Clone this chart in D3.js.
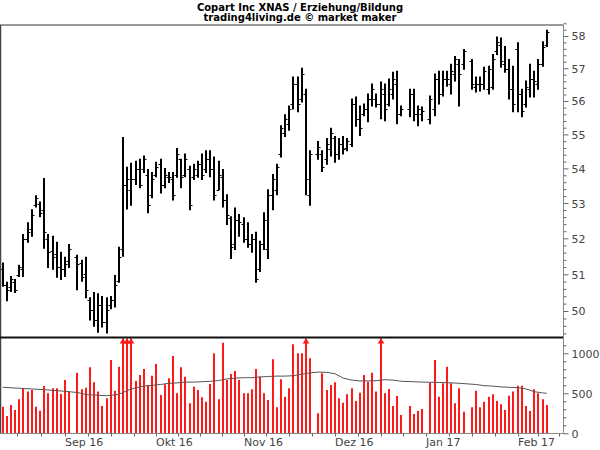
<!DOCTYPE html>
<html><head><meta charset="utf-8">
<script src="https://cdn.jsdelivr.net/npm/d3@7/dist/d3.min.js"></script>
<style>body{margin:0;background:#fff}svg{display:block}</style>
</head><body>
<svg id="c" width="600" height="450"></svg>
<script>
const title1 = "Copart Inc XNAS / Erziehung/Bildung";
const title2 = "trading4living.de © market maker";
const firstDay = "2016-08-11", lastDay = "2017-02-10";
const holidays = ["2016-09-05","2016-11-24","2016-12-26","2017-01-02","2017-01-16"];
const tickMonths = ["2016-08-01","2016-09-01","2016-10-03","2016-11-01","2016-12-01","2017-01-02","2017-02-01","2017-03-01"];
const monthLabels = ["","Sep 16","Okt 16","Nov 16","Dez 16","Jan 17","Feb 17",""];
const priceTicks = [50,51,52,53,54,55,56,57,58];
const volTicks = [0,500,1000];

const open = [51.14,50.72,50.64,50.78,50.97,51.14,51.97,52.25,52.94,52.97,52.81,51.97,51.64,51.56,51.19,51.14,51.36,
51.47,51.31,51.00,50.31,50.03,49.76,50.17,49.70,50.17,50.31,50.81,51.69,53.53,53.38,
53.68,53.97,53.97,53.82,53.24,53.82,54.12,53.53,53.74,53.68,53.82,54.27,53.82,53.97,53.74,53.82,
54.12,53.97,54.27,53.97,53.38,53.74,53.09,52.58,51.83,52.53,52.39,51.97,51.83,51.97,51.14,51.83,51.69,
53.24,53.38,54.42,55.03,55.32,55.91,56.52,56.06,56.21,53.24,
54.42,54.42,54.27,54.58,54.88,54.42,54.73,54.61,54.73,55.91,55.47,55.62,55.76,56.06,56.06,55.91,56.21,55.91,56.21,56.52,55.62,
55.76,56.21,55.62,55.62,
55.47,55.76,56.67,56.21,56.67,56.52,56.82,57.12,57.12,
57.21,56.42,56.52,56.52,56.36,56.42,57.52,57.73,57.12,56.97,56.36,57.58,56.21,55.91,56.36,56.67,56.52,57.12,57.73];
const high = [51.31,50.78,50.94,50.86,51.25,52.11,52.44,52.81,53.21,53.03,53.71,52.11,52.06,51.89,51.61,51.47,51.83,
51.53,51.39,51.47,50.36,50.50,50.47,50.39,50.36,50.39,50.97,51.75,54.91,54.03,54.15,
54.21,54.27,54.36,53.97,53.88,54.18,54.27,54.00,53.88,53.88,54.58,54.27,54.42,54.06,54.12,54.21,
54.42,54.52,54.52,54.33,54.21,53.97,53.24,52.61,52.86,52.67,52.58,52.44,52.11,52.17,51.92,52.72,53.38,
53.82,54.12,55.26,55.59,55.85,56.73,56.73,57.00,56.36,54.52,
54.79,54.52,54.88,55.18,54.94,54.88,54.94,54.88,56.06,56.12,55.85,55.91,56.21,56.52,56.21,56.58,56.52,56.67,56.88,56.91,55.85,
56.36,56.36,55.85,55.82,
56.15,56.82,56.91,56.91,56.91,57.12,57.36,57.27,57.58,
57.27,56.73,56.73,57.03,57.06,57.42,57.97,57.94,57.67,57.27,57.06,57.79,56.36,56.61,57.12,56.91,57.27,57.82,58.18];
const low = [50.67,50.28,50.53,50.50,50.94,50.94,51.89,52.06,52.89,52.61,51.72,51.19,51.14,50.92,50.86,50.94,51.19,
50.58,50.81,50.36,49.76,49.59,49.43,49.57,49.41,50.06,50.11,50.78,51.50,52.83,52.94,
53.53,53.44,53.88,52.72,53.15,53.76,53.29,53.44,53.59,53.09,53.74,53.44,53.76,52.81,53.68,53.74,
53.68,53.88,53.76,53.09,53.38,52.89,52.39,51.44,51.69,52.06,51.89,51.75,51.61,50.78,51.08,51.69,51.44,
52.81,53.24,54.33,54.94,55.12,55.76,55.68,55.97,53.24,52.94,
54.27,53.91,54.12,54.36,54.18,54.27,54.42,54.52,54.64,55.24,54.97,55.56,55.38,55.85,55.82,55.47,55.41,55.85,56.06,55.32,55.56,
55.53,55.41,55.26,55.41,
55.32,55.56,55.91,56.15,56.45,56.21,56.61,55.85,56.97,
56.36,56.27,56.30,56.36,56.21,56.36,57.42,57.03,56.88,56.06,55.68,55.68,55.53,55.82,56.12,56.12,56.36,57.06,57.67];
const close = [50.72,50.58,50.86,50.58,51.19,51.97,52.19,52.67,53.15,52.72,52.19,51.61,51.47,51.19,51.14,51.28,51.69,
51.28,50.92,50.58,50.03,49.76,50.17,49.70,50.03,50.31,50.72,51.47,53.53,53.68,53.68,
53.97,53.53,54.27,52.94,53.68,54.03,53.53,53.82,53.74,53.24,54.42,53.74,54.27,52.94,53.97,54.12,
53.82,54.27,53.97,53.24,53.82,53.09,52.67,51.75,52.53,52.47,51.97,51.83,51.97,50.86,51.83,52.53,53.24,
53.68,54.03,55.18,55.47,55.76,56.52,55.91,56.82,53.68,54.42,
54.64,54.03,54.73,55.03,54.42,54.73,54.58,54.79,55.91,55.47,55.18,55.76,56.06,56.36,55.91,56.36,55.76,56.36,56.67,55.62,55.76,
56.21,55.62,55.76,55.71,
56.06,56.67,56.21,56.67,56.67,56.91,57.27,56.82,57.52,
56.52,56.52,56.52,56.91,56.97,57.27,57.82,57.21,56.97,56.36,55.91,56.21,55.71,56.42,56.67,56.61,57.12,57.67,58.12];
const volume = [333,216,354,291,425,562,521,541,333,283,591,500,562,562,491,666,521,
758,550,570,825,637,521,341,437,916,533,833,1500,1450,1400,
654,729,804,604,720,866,479,612,687,966,500,825,708,375,583,541,
450,395,616,1000,425,1133,666,741,779,666,500,500,550,804,708,500,416,
925,325,675,458,562,1112,1000,1000,1600,937,
250,750,541,604,637,437,383,487,562,404,508,729,645,758,521,1400,500,554,341,466,229,
341,241,279,304,
633,916,458,625,833,625,375,562,270,
325,533,325,395,458,487,404,362,291,470,521,595,595,341,279,550,500,425,354];
const maDates = ["2016-08-11","2016-08-18","2016-08-25","2016-09-01","2016-09-06","2016-09-08","2016-09-12","2016-09-15","2016-09-19","2016-09-20","2016-09-21","2016-09-22","2016-09-26","2016-09-28","2016-09-30","2016-10-04","2016-10-06","2016-10-10","2016-10-12","2016-10-14","2016-10-18","2016-10-20","2016-10-24","2016-10-26","2016-10-28","2016-11-01","2016-11-03","2016-11-07","2016-11-09","2016-11-11","2016-11-15","2016-11-17","2016-11-18","2016-11-21","2016-11-23","2016-11-25","2016-11-29","2016-12-01","2016-12-05","2016-12-07","2016-12-09","2016-12-13","2016-12-15","2016-12-19","2016-12-21","2016-12-23","2016-12-28","2016-12-30","2017-01-04","2017-01-06","2017-01-10","2017-01-12","2017-01-18","2017-01-20","2017-01-24","2017-01-26","2017-01-30","2017-02-01","2017-02-03","2017-02-07","2017-02-09","2017-02-10"];
const maValues = [575,560,545,525,510,485,478,470,480,490,510,535,570,590,600,610,625,630,640,640,645,650,660,680,690,695,695,705,710,715,715,720,730,737,755,765,762,745,690,665,655,655,658,670,665,650,645,640,637,635,630,625,610,595,590,580,575,570,555,520,505,500];

// ---------- layout ----------
const svg = d3.select("#c");
const RIGHT = 563.5, TOP = 25, SEP = 337.5, BOT = 433.5;
const FONT = "'DejaVu Sans', Verdana, sans-serif";

function parse(s){ return new Date(s + "T00:00:00Z"); }
function wk(d){ const days = Math.floor(d.getTime()/864e5); const k = days + 3; const w = Math.floor(k/7); const r = k - 7*w; return w*5 + Math.min(r,5); }
const base = wk(parse(firstDay));
const slot = s => wk(parse(s)) - base;
const nSlots = slot(lastDay);
const fmt = d3.utcFormat("%Y-%m-%d");
const hol = new Set(holidays);
const days = d3.utcDay.range(parse(firstDay), d3.utcDay.offset(parse(lastDay), 1))
  .filter(d => d.getUTCDay() % 6 !== 0).map(fmt).filter(s => !hol.has(s));

const x = d3.scaleLinear().domain([0, nSlots]).range([2.7, 546.7]);
const xd = s => Math.round(x(slot(s)));
const yP = d3.scaleLog().domain([50, 58]).range([311, 36]);
const yV = d3.scaleLinear().domain([0, 1000]).range([433.3, 353.3]);

const data = days.map((d, i) => ({d, o: open[i], h: high[i], l: low[i], c: close[i], v: volume[i]}));

// clip paths
const defs = svg.append("defs");
defs.append("clipPath").attr("id","cp").append("rect").attr("x",0).attr("y",TOP+1).attr("width",RIGHT).attr("height",SEP-TOP-2);
defs.append("clipPath").attr("id","cv").append("rect").attr("x",0).attr("y",SEP+1).attr("width",RIGHT).attr("height",BOT-SEP-1);

// titles
svg.append("text").attr("x",300).attr("y",10.5).attr("text-anchor","middle")
  .style("font-family",FONT).style("font-weight","bold").style("font-size","10px").attr("fill","#000").text(title1);
svg.append("text").attr("x",300).attr("y",20.5).attr("text-anchor","middle")
  .style("font-family",FONT).style("font-weight","bold").style("font-size","10px").attr("fill","#000").text(title2);

// price bars
const gp = svg.append("g").attr("clip-path","url(#cp)");
const bars = gp.selectAll("g.b").data(data).join("g").attr("class","b");
bars.append("line").attr("x1",d=>xd(d.d)).attr("x2",d=>xd(d.d))
  .attr("y1",d=>yP(d.h)-0.5).attr("y2",d=>yP(d.l)+0.5).attr("stroke","#000").attr("stroke-width",2);
bars.append("line").attr("x1",d=>xd(d.d)-2.5).attr("x2",d=>xd(d.d))
  .attr("y1",d=>Math.round(yP(d.o))+0.5).attr("y2",d=>Math.round(yP(d.o))+0.5).attr("stroke","#000").attr("stroke-width",1);
bars.append("line").attr("x1",d=>xd(d.d)).attr("x2",d=>xd(d.d)+2.5)
  .attr("y1",d=>Math.round(yP(d.c))+0.5).attr("y2",d=>Math.round(yP(d.c))+0.5).attr("stroke","#000").attr("stroke-width",1);

// volume bars
const gv = svg.append("g").attr("clip-path","url(#cv)");
gv.selectAll("line.v").data(data).join("line").attr("class","v")
  .attr("x1",d=>xd(d.d)).attr("x2",d=>xd(d.d))
  .attr("y1",d=>yV(d.v)).attr("y2",yV(0)).attr("stroke","#ff1a1a").attr("stroke-width",2);
const vmax = yV.invert(SEP+1);
svg.selectAll("path.arr").data(data.filter(d=>d.v>vmax)).join("path").attr("class","arr")
  .attr("d",d=>{const cx=xd(d.d); return `M${cx-3.5},${SEP+6}L${cx},${SEP+1}L${cx+3.5},${SEP+6}Z`;})
  .attr("fill","#ff1a1a");

// moving average
const maData = maDates.map((d,i)=>({d, v: maValues[i]}));
svg.append("path").datum(maData)
  .attr("d", d3.line().x(d=>x(slot(d.d))).y(d=>yV(d.v)))
  .attr("fill","none").attr("stroke","#555").attr("stroke-width",1);

// frame
svg.append("line").attr("x1",0).attr("x2",RIGHT).attr("y1",TOP).attr("y2",TOP).attr("stroke","#999").attr("stroke-width",2);
svg.append("line").attr("x1",0.5).attr("x2",0.5).attr("y1",TOP).attr("y2",BOT).attr("stroke","#444").attr("stroke-width",1.5);
svg.append("line").attr("x1",0).attr("x2",RIGHT).attr("y1",SEP).attr("y2",SEP).attr("stroke","#111").attr("stroke-width",2);

// right price axis
function styleAxis(g){
  g.select(".domain").attr("stroke","#888");
  g.selectAll(".tick line").attr("stroke","#666");
  g.selectAll(".tick text").attr("fill","#444").style("font-family",FONT).style("font-size","11px");
}
const minorP = d3.range(49.4, 58.41, 0.2).map(v=>+v.toFixed(1)).filter(v=>Math.abs(v-Math.round(v))>0.01);
svg.append("g").attr("transform",`translate(${RIGHT},0)`)
  .call(d3.axisRight(yP).tickValues(minorP).tickSize(3).tickFormat("").tickSizeOuter(0))
  .call(g=>{g.select(".domain").remove(); g.selectAll(".tick line").attr("stroke","#666");});
const pax = svg.append("g").attr("transform",`translate(${RIGHT},0)`)
  .call(d3.axisRight(yP).tickValues(priceTicks).tickSize(5).tickPadding(3).tickFormat(d3.format("d")).tickSizeOuter(0))
  .call(styleAxis);
pax.select(".domain").attr("d",`M0,${TOP}V${BOT}`);
pax.selectAll(".tick text").attr("dy","0.36em");

// right volume axis
svg.append("g").attr("transform",`translate(${RIGHT},0)`)
  .call(d3.axisRight(yV).tickValues(d3.range(100,1200,100).filter(v=>v%500)).tickSize(3).tickFormat("").tickSizeOuter(0))
  .call(g=>{g.select(".domain").remove(); g.selectAll(".tick line").attr("stroke","#666");});
const vax = svg.append("g").attr("transform",`translate(${RIGHT},0)`)
  .call(d3.axisRight(yV).tickValues(volTicks).tickSize(5).tickPadding(3).tickFormat(d3.format("d")).tickSizeOuter(0))
  .call(styleAxis);
vax.select(".domain").remove();
vax.selectAll(".tick text").attr("dy","0.36em");

// bottom time axis
const mX = tickMonths.map(s=>x(slot(s)));
const tickX = [];
for (let i=0;i<mX.length-1;i++) for (let q=0;q<4;q++) tickX.push(mX[i] + (mX[i+1]-mX[i])*q/4);
const xPix = d3.scaleLinear().domain([0,600]).range([0,600]);
const bax = svg.append("g").attr("transform",`translate(0,${BOT})`)
  .call(d3.axisBottom(xPix).tickValues(tickX.filter(v=>v>=0 && v<=RIGHT).map(Math.round)).tickSize(3).tickFormat("").tickSizeOuter(0));
bax.select(".domain").attr("d",`M0,0H${RIGHT}`).attr("stroke","#888");
bax.selectAll(".tick line").attr("stroke","#666");
svg.selectAll("text.ml").data(tickMonths.map((s,i)=>({s,l:monthLabels[i]})).filter(d=>d.l))
  .join("text").attr("class","ml")
  .attr("x",d=>Math.round(x(slot(d.s)))).attr("y",446)
  .attr("fill","#444").style("font-family",FONT).style("font-size","11px").text(d=>d.l);
</script>
</body></html>
